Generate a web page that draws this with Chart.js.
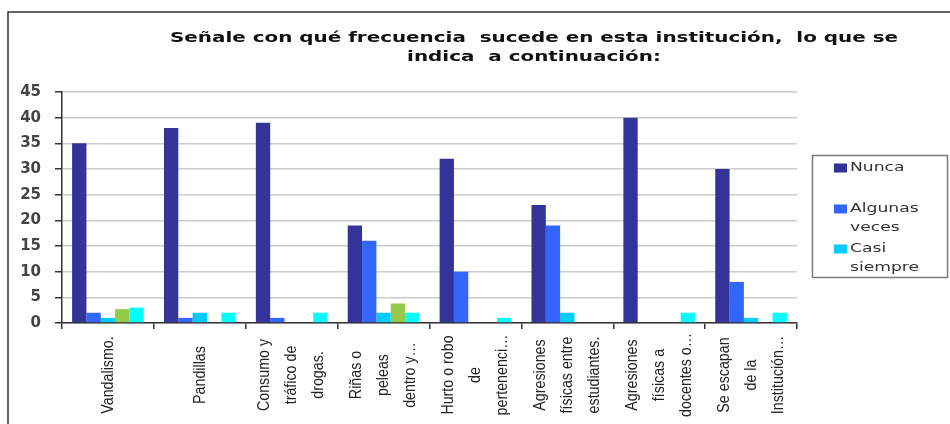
<!DOCTYPE html>
<html>
<head>
<meta charset="utf-8">
<script src="https://cdn.jsdelivr.net/npm/chart.js@4.4.1/dist/chart.umd.min.js"></script>
<style>
  html, body { margin: 0; padding: 0; background: #fff; }
  #wrap { position: relative; width: 950px; height: 424px; }
</style>
</head>
<body>
<div id="wrap"><canvas id="c" width="950" height="424"></canvas></div>
<script>
// ---- data ----
const titleLines = ["Señale con qué frecuencia  sucede en esta institución,  lo que se", "indica  a continuación:"];
const categories = [
  ["Vandalismo."],
  ["Pandillas"],
  ["Consumo y", "tráfico de", "drogas."],
  ["Riñas o", "peleas", "dentro y…"],
  ["Hurto o robo", "de", "pertenenci…"],
  ["Agresiones", "físicas entre", "estudiantes."],
  ["Agresiones", "físicas a", "docentes o…"],
  ["Se escapan", "de la", "Institución…"]
];
const seriesNames = ["Nunca", "Algunas veces", "Casi siempre", "Siempre", "Sin respuesta"];
const nunca        = [35, 38, 39, 19, 32, 23, 40, 30];
const algunasVeces = [2, 1, 1, 16, 10, 19, 0, 8];
const casiSiempre  = [1, 2, 0, 2, 0, 2, 0, 1];
const siempre      = [2.7, 0, 0, 3.8, 0, 0, 0, 0];
const sinRespuesta = [3, 2, 2, 2, 1, 0, 2, 2];
const yTicks = [0, 5, 10, 15, 20, 25, 30, 35, 40, 45];
const legendCount = 3; // only the first three series are visible in the legend

const colors = ["#333399", "#3366FF", "#00CCFF", "#94C94A", "#00FFFF"];
const seriesValues = [nunca, algunasVeces, casiSiempre, siempre, sinRespuesta];

const framePlugin = {
  id: 'frame',
  beforeDraw(chart) {
    const ctx = chart.ctx;
    ctx.save();
    ctx.fillStyle = '#ffffff';
    ctx.fillRect(0, 0, chart.width, chart.height);
    ctx.strokeStyle = '#333333';
    ctx.lineWidth = 1.5;
    ctx.beginPath();
    ctx.moveTo(8, chart.height);
    ctx.lineTo(8, 12);
    ctx.lineTo(chart.width, 12);
    ctx.stroke();
    ctx.restore();
  }
};

const titlePlugin = {
  id: 'wideTitle',
  afterDraw(chart) {
    const ctx = chart.ctx;
    ctx.save();
    ctx.font = 'bold 14px "DejaVu Sans"';
    ctx.fillStyle = '#111111';
    ctx.textAlign = 'center';
    ctx.textBaseline = 'middle';
    const w = ctx.measureText(titleLines[0]).width;
    const sx = 728 / w;
    const cx = 534;
    const ys = [38, 57];
    titleLines.forEach((t, i) => {
      ctx.save();
      ctx.translate(cx, ys[i]);
      ctx.scale(sx, 1);
      ctx.fillText(t, 0, 0);
      ctx.restore();
    });
    ctx.restore();
  }
};

const xLabelPlugin = {
  id: 'xLabels',
  afterDraw(chart) {
    const ctx = chart.ctx;
    const xs = chart.scales.x;
    ctx.save();
    ctx.font = '15px "Liberation Sans", Arial, sans-serif';
    ctx.fillStyle = '#222222';
    ctx.textAlign = 'center';
    ctx.textBaseline = 'middle';
    const pitch = 27;
    const centerY = chart.chartArea.bottom + 52;
    categories.forEach((lines, i) => {
      const x = xs.getPixelForValue(i);
      const n = lines.length;
      lines.forEach((line, k) => {
        ctx.save();
        ctx.translate(x + (k - (n - 1) / 2) * pitch, centerY);
        ctx.rotate(-Math.PI / 2);
        ctx.scale(0.95, 1.15);
        ctx.fillText(line, 0, 0);
        ctx.restore();
      });
    });
    ctx.restore();
  }
};

const legendPlugin = {
  id: 'boxLegend',
  afterDraw(chart) {
    const ctx = chart.ctx;
    ctx.save();
    const bx = 812.5, by = 155.5, bw = 135, bh = 122;
    ctx.strokeStyle = '#7a7a7a';
    ctx.lineWidth = 1.5;
    ctx.strokeRect(bx, by, bw, bh);
    ctx.font = '13px "DejaVu Sans"';
    ctx.textBaseline = 'middle';
    ctx.textAlign = 'left';
    const sx = 1.32;
    const maxW = 92;
    const starts = [168, 209, 249];
    for (let i = 0; i < legendCount; i++) {
      const ds = chart.data.datasets[i];
      const y0 = starts[i];
      ctx.fillStyle = ds.backgroundColor;
      ctx.fillRect(834, y0 - 4.5, 13, 9);
      const words = ds.label.split(' ');
      const lines = [];
      let cur = '';
      words.forEach(wd => {
        const test = cur ? cur + ' ' + wd : wd;
        if (cur && ctx.measureText(test).width * sx > maxW) { lines.push(cur); cur = wd; }
        else cur = test;
      });
      if (cur) lines.push(cur);
      ctx.fillStyle = '#333333';
      lines.forEach((ln, k) => {
        ctx.save();
        ctx.translate(850, y0 + k * 18.5);
        ctx.scale(sx, 1);
        ctx.fillText(ln, 0, 0);
        ctx.restore();
      });
    }
    ctx.restore();
  }
};

new Chart(document.getElementById('c'), {
  type: 'bar',
  data: {
    labels: categories.map(c => c.join(' ')),
    datasets: seriesValues.map((vals, i) => ({
      label: seriesNames[i],
      data: vals,
      backgroundColor: colors[i],
      borderWidth: 0,
      barPercentage: 1.0,
      categoryPercentage: 0.78
    }))
  },
  options: {
    responsive: false,
    animation: false,
    devicePixelRatio: 1,
    layout: { padding: { top: 92, right: 153, bottom: 0, left: 0 } },
    plugins: {
      legend: { display: false },
      title: { display: false },
      tooltip: { enabled: false }
    },
    scales: {
      x: {
        ticks: { display: false },
        grid: { display: true, drawOnChartArea: false, offset: true, tickLength: 6, tickColor: '#333333', lineWidth: 1.5 },
        border: { display: true, color: '#333333', width: 1.5 },
        afterFit(scale) { scale.height = 101; }
      },
      y: {
        min: 0,
        max: 45,
        afterBuildTicks(scale) { scale.ticks = yTicks.map(v => ({ value: v })); },
        ticks: {
          padding: 14,
          color: '#444444',
          font: { family: 'DejaVu Sans', size: 15, weight: 'bold' }
        },
        grid: { color: '#cccccc', lineWidth: 1.5, tickLength: 7, tickColor: '#333333' },
        border: { display: true, color: '#333333', width: 1.5 },
        afterFit(scale) { scale.width = 62; }
      }
    }
  },
  plugins: [framePlugin, titlePlugin, xLabelPlugin, legendPlugin]
});
</script>
</body>
</html>
